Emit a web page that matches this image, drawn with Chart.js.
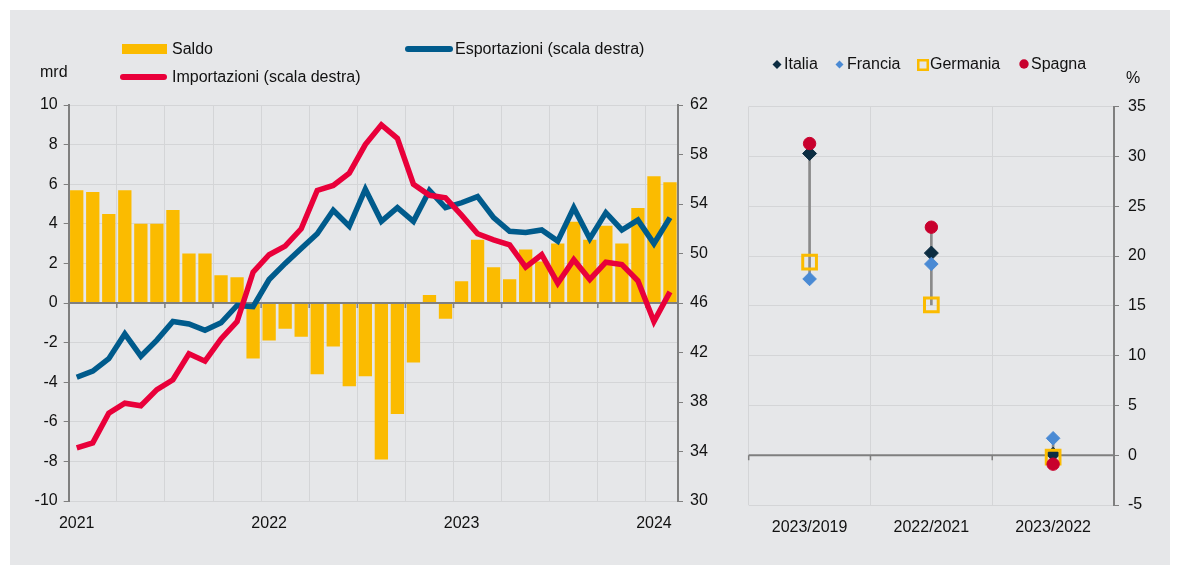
<!DOCTYPE html>
<html><head><meta charset="utf-8">
<script src="https://cdn.jsdelivr.net/npm/chart.js@4.4.1/dist/chart.umd.min.js"></script>
<style>
body{margin:0;background:#fff;width:1180px;height:565px;overflow:hidden;font-family:"Liberation Sans",Arial,sans-serif;}
#panel{position:absolute;left:10px;top:10px;width:1160px;height:555px;background:#e6e7e9;}
canvas{position:absolute;}
.t{position:absolute;font-size:16px;line-height:18px;color:#111;white-space:nowrap;}
.m{position:absolute;}
</style></head><body>
<div id="panel"></div>
<canvas id="c1" width="710" height="555" style="left:10px;top:10px;width:710px;height:555px"></canvas>
<canvas id="c2" width="450" height="555" style="left:720px;top:10px;width:450px;height:555px"></canvas>

<!-- left legend -->
<div class="m" style="left:122px;top:44px;width:45px;height:10px;background:#fbbb00"></div>
<div class="t" style="left:172px;top:40px">Saldo</div>
<div class="m" style="left:405px;top:46px;width:48px;height:6px;border-radius:3px;background:#005b8c"></div>
<div class="t" style="left:455px;top:40px">Esportazioni (scala destra)</div>
<div class="m" style="left:120px;top:74px;width:47px;height:6px;border-radius:3px;background:#e9003a"></div>
<div class="t" style="left:172px;top:68px">Importazioni (scala destra)</div>
<div class="t" style="left:40px;top:63px">mrd</div>

<!-- right legend -->
<svg class="m" style="left:772px;top:59px" width="10" height="11"><polygon points="5,1 9.5,5.5 5,10 0.5,5.5" fill="#0c2d42"/></svg>
<div class="t" style="left:784px;top:55px">Italia</div>
<svg class="m" style="left:835px;top:60px" width="9" height="9"><polygon points="4.5,0.5 8.5,4.5 4.5,8.5 0.5,4.5" fill="#4a8ad4"/></svg>
<div class="t" style="left:847px;top:55px">Francia</div>
<svg class="m" style="left:917px;top:59px" width="12" height="12"><rect x="1.25" y="1.25" width="9.5" height="9.5" fill="none" stroke="#fbbb00" stroke-width="2.5"/></svg>
<div class="t" style="left:930px;top:55px">Germania</div>
<svg class="m" style="left:1019px;top:59px" width="10" height="10"><circle cx="5" cy="5" r="4.7" fill="#c8002d"/></svg>
<div class="t" style="left:1031px;top:55px">Spagna</div>
<div class="t" style="left:1126px;top:69px">%</div>

<script>
// ---- Left panel data (monthly, Jan 2021 - Feb 2024) ----
const months = ['gen 2021','feb 2021','mar 2021','apr 2021','mag 2021','giu 2021','lug 2021','ago 2021','set 2021','ott 2021','nov 2021','dic 2021',
  'gen 2022','feb 2022','mar 2022','apr 2022','mag 2022','giu 2022','lug 2022','ago 2022','set 2022','ott 2022','nov 2022','dic 2022',
  'gen 2023','feb 2023','mar 2023','apr 2023','mag 2023','giu 2023','lug 2023','ago 2023','set 2023','ott 2023','nov 2023','dic 2023',
  'gen 2024','feb 2024'];
const yearTicks = ['2021','2022','2023','2024'];
const saldo = [5.7,5.6,4.5,5.7,4.0,4.0,4.7,2.5,2.5,1.4,1.3,-2.8,
  -1.9,-1.3,-1.7,-3.6,-2.2,-4.2,-3.7,-7.9,-5.6,-3.0,0.4,-0.8,
  1.1,3.2,1.8,1.2,2.7,2.1,3.0,4.1,3.2,3.9,3.0,4.8,
  6.4,6.1];
const esportazioni = [40.0,40.5,41.5,43.5,41.7,43.0,44.5,44.3,43.8,44.4,45.8,45.7,
  47.9,49.2,50.4,51.6,53.5,52.2,55.2,52.6,53.7,52.6,55.1,53.7,
  54.1,54.6,52.9,51.8,51.7,51.9,51.0,53.7,51.2,53.3,51.9,52.7,
  50.8,52.9];
const importazioni = [34.3,34.7,37.1,37.9,37.7,39.0,39.8,41.9,41.3,43.1,44.5,48.5,
  49.9,50.6,52.0,55.1,55.5,56.5,58.8,60.4,59.3,55.6,54.7,54.5,
  53.1,51.6,51.1,50.7,48.9,49.9,47.6,49.5,47.9,49.3,49.1,47.8,
  44.5,46.9];

// ---- Right panel data (% change) ----
const periods = ['2023/2019','2022/2021','2023/2022'];
const italia = [30.3,20.3,0.1];
const francia = [17.7,19.2,1.7];
const germania = [19.4,15.1,-0.2];
const spagna = [31.3,22.9,-0.9];

const GRID = '#d4d5d7', AXIS = '#7f7f7f', TXT = '#111111';
Chart.defaults.font.family = '"Liberation Sans", Arial, sans-serif';
Chart.defaults.font.size = 16;
Chart.defaults.color = TXT;

function zeroLine(chart, yScaleId, step) {
  const {ctx, chartArea: a} = chart;
  const y = chart.scales[yScaleId].getPixelForValue(0);
  const xs = chart.scales.x;
  const n = chart.data.labels.length;
  const w = (a.right - a.left) / n;
  ctx.save();
  ctx.strokeStyle = AXIS;
  ctx.lineWidth = 2;
  ctx.beginPath();
  ctx.moveTo(a.left, y); ctx.lineTo(a.right, y);
  ctx.stroke();
  ctx.lineWidth = 1.5;
  ctx.beginPath();
  for (let i = 0; i < n; i += step) {
    const x = xs.getPixelForValue(i) - w / 2;
    ctx.moveTo(x, y); ctx.lineTo(x, y + 5);
  }
  ctx.stroke();
  ctx.restore();
}

new Chart(document.getElementById('c1'), {
  data: {
    labels: months,
    datasets: [
      {type:'bar', label:'Saldo', data:saldo, backgroundColor:'#fbbb00', yAxisID:'y', order:3,
       barPercentage:0.83, categoryPercentage:1},
      {type:'line', label:'Esportazioni (scala destra)', data:esportazioni, borderColor:'#005b8c',
       borderWidth:5.5, pointRadius:0, tension:0, yAxisID:'y1', order:2},
      {type:'line', label:'Importazioni (scala destra)', data:importazioni, borderColor:'#e9003a',
       borderWidth:5.5, pointRadius:0, tension:0, yAxisID:'y1', order:1}
    ]
  },
  options: {
    responsive:false, animation:false, events:[],
    layout:{padding:{top:95,left:0,right:0,bottom:0}},
    plugins:{legend:{display:false}, tooltip:{enabled:false}},
    scales:{
      x:{
        grid:{offset:true, drawTicks:false, color:c => (c.index % 3 === 0 ? GRID : 'rgba(0,0,0,0)')},
        border:{display:false},
        ticks:{autoSkip:false, maxRotation:0, minRotation:0, padding:13,
               callback:(v,i) => (i % 12 === 0 ? yearTicks[i/12] : '')},
        afterFit:s => { s.height = 64; }
      },
      y:{
        position:'left', min:-10, max:10,
        ticks:{stepSize:2, padding:6},
        grid:{color:c => (c.tick.value === 0 ? 'rgba(0,0,0,0)' : GRID), tickColor:AXIS, tickLength:5},
        border:{color:AXIS, width:2},
        afterFit:s => { s.width = 58.7; }
      },
      y1:{
        position:'right', min:30, max:62,
        ticks:{stepSize:4, padding:7},
        grid:{drawOnChartArea:false, tickColor:AXIS, tickLength:5},
        border:{color:AXIS, width:2},
        afterFit:s => { s.width = 42; }
      }
    }
  },
  plugins:[{id:'zeroL', afterDatasetDraw(chart, args){ if (args.index === 0) zeroLine(chart, 'y', 3); }}]
});

const ranges = periods.map((_, i) => {
  const v = [italia[i], francia[i], germania[i], spagna[i]];
  return [Math.min(...v), Math.max(...v)];
});

new Chart(document.getElementById('c2'), {
  data: {
    labels: periods,
    datasets: [
      {type:'bar', label:'range', data:ranges, backgroundColor:'#8a8a8a', barThickness:2, order:10},
      {type:'line', label:'Italia', data:italia, showLine:false, pointStyle:'rectRot', pointRadius:7,
       pointBackgroundColor:'#0c2d42', pointBorderColor:'#0c2d42', pointBorderWidth:1, order:4},
      {type:'line', label:'Francia', data:francia, showLine:false, pointStyle:'rectRot', pointRadius:6.8,
       pointBackgroundColor:'#4a8ad4', pointBorderColor:'#4a8ad4', pointBorderWidth:1, order:3},
      {type:'line', label:'Germania', data:germania, showLine:false, pointStyle:'rect', pointRadius:9.7,
       pointBackgroundColor:'rgba(0,0,0,0)', pointBorderColor:'#fbbb00', pointBorderWidth:3, order:2},
      {type:'line', label:'Spagna', data:spagna, showLine:false, pointStyle:'circle', pointRadius:6.2,
       pointBackgroundColor:'#c8002d', pointBorderColor:'#c8002d', pointBorderWidth:1, order:1}
    ]
  },
  options: {
    responsive:false, animation:false, events:[],
    layout:{padding:{top:96.7,left:28.7,right:0,bottom:0}},
    plugins:{legend:{display:false}, tooltip:{enabled:false}},
    scales:{
      x:{
        grid:{offset:true, drawTicks:false, color:GRID},
        border:{display:false},
        ticks:{padding:13, maxRotation:0},
        afterFit:s => { s.height = 60; }
      },
      y:{
        position:'right', min:-5, max:35,
        ticks:{stepSize:5, padding:9},
        grid:{color:c => (c.tick.value === 0 ? 'rgba(0,0,0,0)' : GRID), tickColor:AXIS, tickLength:5},
        border:{color:AXIS, width:2},
        afterFit:s => { s.width = 56; }
      }
    }
  },
  plugins:[{id:'zeroR', beforeDatasetsDraw(chart){ zeroLine(chart, 'y', 1); }}]
});
</script>
</body></html>
